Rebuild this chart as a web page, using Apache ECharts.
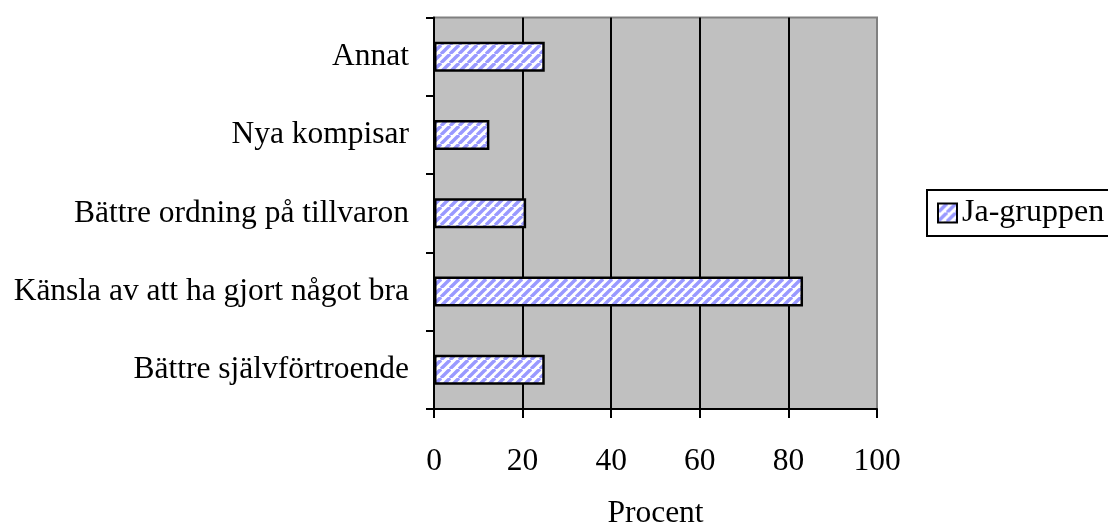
<!DOCTYPE html>
<html>
<head>
<meta charset="utf-8">
<script src="https://cdn.jsdelivr.net/npm/echarts@6/dist/echarts.min.js"></script>
<style>
html,body{margin:0;padding:0;background:#fff;}
#chart{width:1108px;height:525px;}
</style>
</head>
<body>
<div id="chart"></div>
<script>
// Data
const categories = ['Bättre självförtroende', 'Känsla av att ha gjort något bra', 'Bättre ordning på tillvaron', 'Nya kompisar', 'Annat'];
const jaGruppen = [25, 83.3, 20.8, 12.5, 25];
const seriesName = 'Ja-gruppen';
const axisName = 'Procent';

const FONT = "'Liberation Serif', 'Times New Roman', serif";

function makePattern() {
  const s = 9;
  const c = document.createElement('canvas');
  c.width = s; c.height = s;
  const ctx = c.getContext('2d');
  ctx.fillStyle = '#ffffff';
  ctx.fillRect(0, 0, s, s);
  ctx.strokeStyle = '#9999ff';
  ctx.lineWidth = 3.4;
  for (const o of [-s, 0, s]) {
    ctx.beginPath();
    ctx.moveTo(o, s);
    ctx.lineTo(o + s, 0);
    ctx.stroke();
  }
  return c;
}

const chart = echarts.init(document.getElementById('chart'), null, {renderer: 'canvas'});
chart.setOption({
  animation: false,
  backgroundColor: '#ffffff',
  grid: {
    left: 434, right: 231, top: 17.5, bottom: 116,
    containLabel: false, outerBoundsMode: 'none',
    show: true, backgroundColor: '#c0c0c0', borderColor: '#808080', borderWidth: 2
  },
  legend: {
    left: 927, top: 190,
    orient: 'vertical',
    padding: [7, 12, 7, 10],
    itemWidth: 19, itemHeight: 19, itemGap: 0,
    borderColor: '#000', borderWidth: 2,
    backgroundColor: '#fff',
    textStyle: {fontFamily: FONT, fontSize: 32, color: '#000'},
    data: [{name: seriesName, icon: 'rect'}]
  },
  xAxis: {
    type: 'value', min: 0, max: 100, interval: 20,
    name: axisName, nameLocation: 'middle', nameGap: 89,
    nameTextStyle: {fontFamily: FONT, fontSize: 31.5, color: '#000'},
    axisLine: {show: true, lineStyle: {color: '#000', width: 2}},
    axisTick: {show: true, length: 9, lineStyle: {color: '#000', width: 2}},
    axisLabel: {fontFamily: FONT, fontSize: 31.5, color: '#000', margin: 37},
    splitLine: {show: true, showMinLine: false, showMaxLine: false, lineStyle: {color: '#000', width: 2}}
  },
  yAxis: {
    type: 'category', data: categories,
    axisLine: {show: true, lineStyle: {color: '#000', width: 2}},
    axisTick: {show: true, length: 8, lineStyle: {color: '#000', width: 2}},
    axisLabel: {fontFamily: FONT, fontSize: 31.5, color: '#000', margin: 25}
  },
  series: [{
    name: seriesName, type: 'bar', data: jaGruppen, barWidth: 30,
    itemStyle: {
      color: {image: makePattern(), repeat: 'repeat'},
      borderColor: '#000', borderWidth: 2.5
    }
  }]
});
</script>
</body>
</html>
